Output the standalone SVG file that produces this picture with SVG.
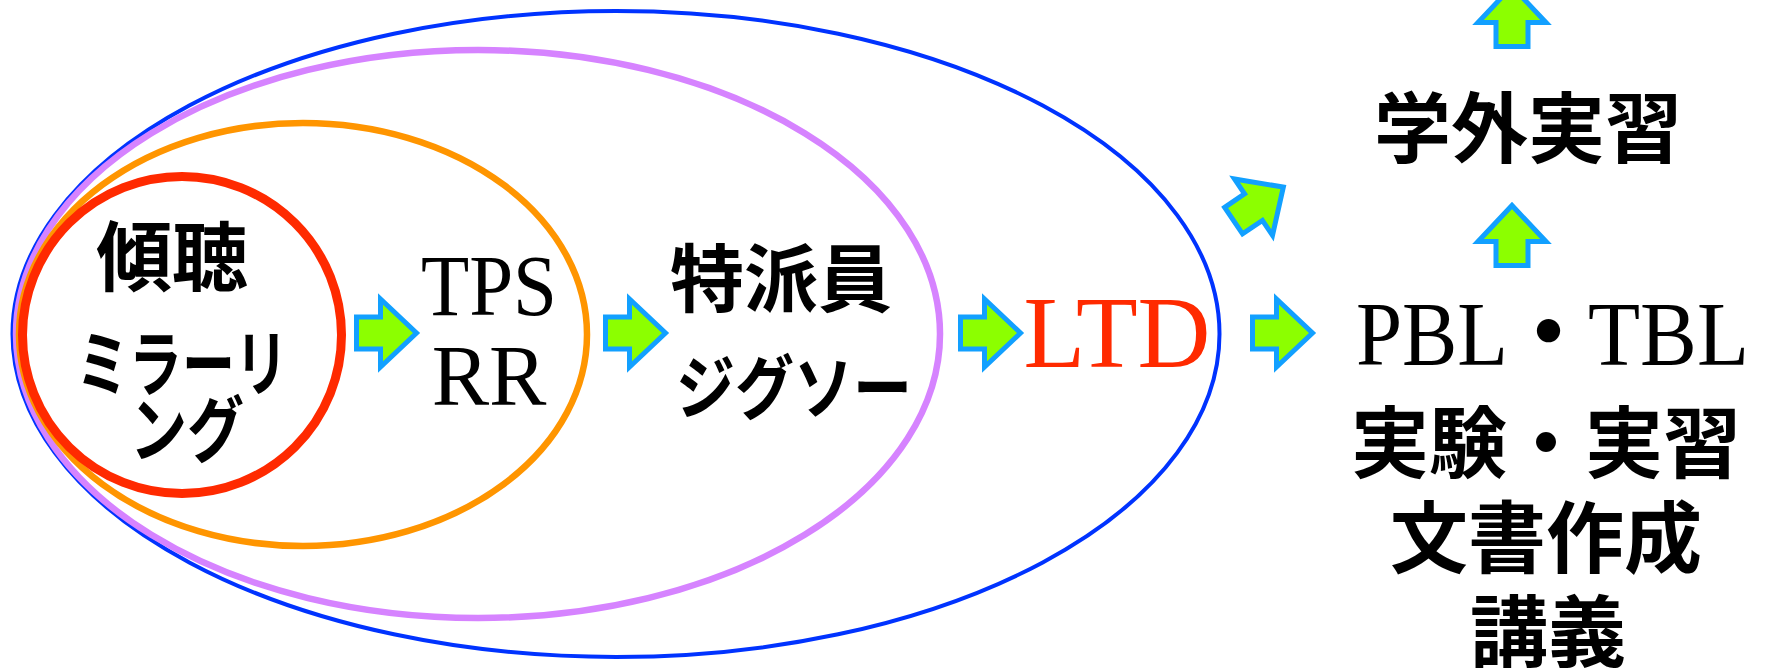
<svg xmlns="http://www.w3.org/2000/svg" width="1768" height="671" viewBox="0 0 1768 671">
<style>
.jp{font-family:"Noto Sans CJK JP","Noto Sans CJK SC",sans-serif;font-weight:700;fill:#000}
.lat{font-family:"Liberation Serif","Noto Sans CJK JP",serif;fill:#000}
.ring{fill:none}
.arr{fill:#8CFF00;stroke:#12A0FF;stroke-width:5;stroke-miterlimit:10}
</style>
<defs>
<path id="ar" d="M0,-16 L24,-16 L24,-34 L60,0 L24,34 L24,16 L0,16 Z"/>
</defs>
<rect width="1768" height="671" fill="#fff"/>
<g id="ring-blue"><ellipse class="ring" cx="616" cy="334" rx="603.5" ry="323" stroke="#0033FF" stroke-width="4"/></g>
<g id="ring-purple"><ellipse class="ring" cx="478" cy="334" rx="462" ry="284" stroke="#D683FF" stroke-width="6.5"/></g>
<g id="ring-orange"><ellipse class="ring" cx="303" cy="334.5" rx="284" ry="211.5" stroke="#FF9500" stroke-width="6.5"/></g>
<g id="ring-red"><ellipse class="ring" cx="182" cy="335" rx="159.5" ry="158.5" stroke="#FF2A00" stroke-width="9"/></g>

<g id="node-listen">
<text class="jp" x="172" y="285" font-size="76" text-anchor="middle">傾聴</text>
<text class="jp" x="76" y="390" font-size="72" textLength="212" lengthAdjust="spacingAndGlyphs">ミラーリ</text>
<text class="jp" x="130" y="456" font-size="72" textLength="114" lengthAdjust="spacingAndGlyphs">ング</text>
</g>
<g id="node-tps">
<text class="lat" x="421" y="315" font-size="86" textLength="136" lengthAdjust="spacingAndGlyphs">TPS</text>
<text class="lat" x="489" y="405" font-size="86" text-anchor="middle">RR</text>
</g>
<g id="node-jigsaw">
<text class="jp" x="781" y="306" font-size="74" text-anchor="middle">特派員</text>
<text class="jp" x="676" y="414" font-size="70" textLength="236" lengthAdjust="spacingAndGlyphs">ジグソー</text>
</g>
<g id="node-ltd">
<text class="lat" x="1117" y="367" font-size="101" text-anchor="middle" fill="#FF2A00" style="fill:#FF2A00">LTD</text>
</g>
<g id="node-external">
<text class="jp" x="1528" y="157" font-size="77" text-anchor="middle">学外実習</text>
</g>
<g id="node-classes">
<text class="lat" y="365" font-size="91"><tspan x="1356" textLength="152" lengthAdjust="spacingAndGlyphs">PBL</tspan><tspan class="jp" x="1503" style="font-weight:700">・</tspan><tspan x="1588" textLength="161" lengthAdjust="spacingAndGlyphs">TBL</tspan></text>
<text class="jp" x="1546" y="472" font-size="78" text-anchor="middle">実験・実習</text>
<text class="jp" x="1546" y="567" font-size="78" text-anchor="middle">文書作成</text>
<text class="jp" x="1548" y="661" font-size="78" text-anchor="middle">講義</text>
</g>

<g id="connectors">
<use href="#ar" class="arr" transform="translate(356.5,333)"/>
<use href="#ar" class="arr" transform="translate(605.5,333)"/>
<use href="#ar" class="arr" transform="translate(960.5,333)"/>
<use href="#ar" class="arr" transform="translate(1252.5,333)"/>
<use href="#ar" class="arr" transform="translate(1233.6,220.6) rotate(-34)"/>
<use href="#ar" class="arr" transform="translate(1512,265.5) rotate(-90)"/>
<use href="#ar" class="arr" transform="translate(1512,46.5) rotate(-90)"/>
</g>
</svg>
